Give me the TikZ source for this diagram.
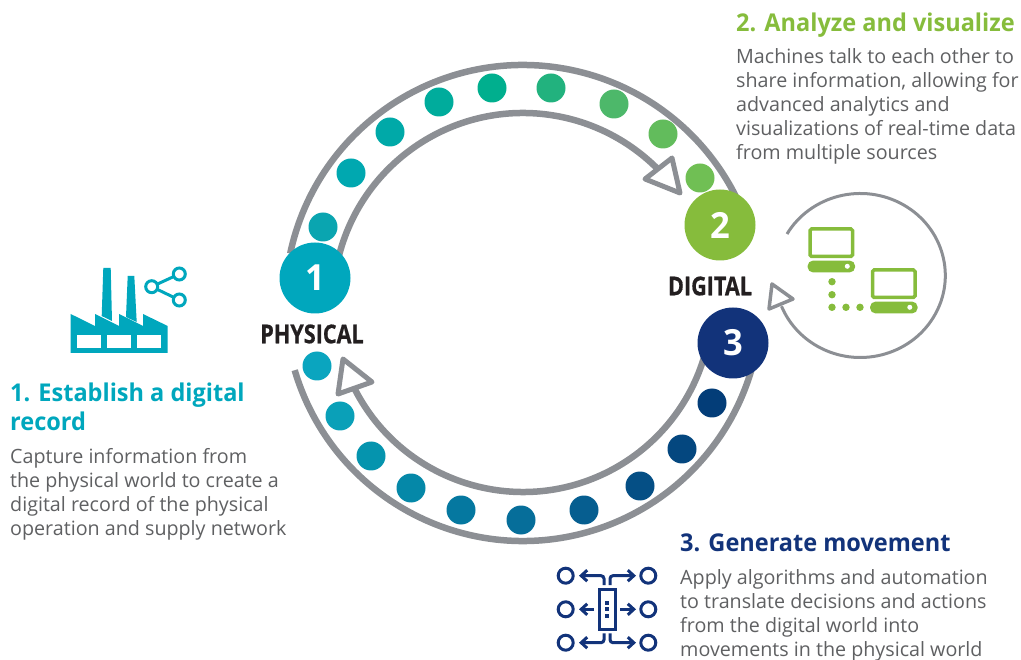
\documentclass[tikz,border=0pt]{standalone}
\usepackage{fontspec}
\setmainfont{Open Sans}
\newfontfamily\semifont[FakeStretch=0.96]{Open Sans}
\newfontfamily\condfont[FakeStretch=0.83,FakeBold=0.6]{Open Sans}
\usetikzlibrary{arrows.meta,backgrounds}
\definecolor{tealmain}{HTML}{00A7BD}
\definecolor{greenmain}{HTML}{86BC3C}
\definecolor{navymain}{HTML}{12337A}
\definecolor{ringgray}{HTML}{8C8F94}
\definecolor{bodygray}{HTML}{5F6062}
\definecolor{labelblack}{HTML}{231F20}
\tikzstyle{ringline}=[draw=ringgray, line width=6.5pt]
\tikzstyle{ringtip}=[draw=ringgray, fill=white, line width=5pt, line join=round]
\tikzstyle{ball}=[circle, inner sep=0pt, minimum size=29pt]
\tikzstyle{bignum}=[circle, inner sep=0pt, minimum size=71pt, text=white, font=\semifont\bfseries\fontsize{36}{36}\selectfont]
\tikzstyle{sidelabel}=[inner sep=0pt, text=labelblack, font=\condfont\bfseries\fontsize{26}{26}\selectfont]
\tikzstyle{headtext}=[inner sep=0pt, anchor=north west, align=left, font=\semifont\bfseries\fontsize{24.5}{29}\selectfont]
\tikzstyle{bodytext}=[inner sep=0pt, anchor=north west, align=left, text=bodygray, font=\fontsize{19.7}{24}\selectfont]
\tikzstyle{netline}=[draw=navymain, line width=3pt]
\tikzstyle{netarrow}=[netline, rounded corners=3pt, -{Straight Barb[length=6pt,width=11pt]}]
\begin{document}
\begin{tikzpicture}[x=1pt, y=-1pt]
	\useasboundingbox (0,0) rectangle (1021,660);
	\coordinate (ctr) at (523,303);
	\node[bignum, fill=tealmain] (physical) at (315,278) {1};
	\node[bignum, fill=greenmain] (digital) at (720,225) {2};
	\node[bignum, fill=navymain] (movement) at (733,343) {3};
	\begin{scope}[on background layer]
		\coordinate (topouter) at ([shift={(ctr)}]192:238);
		\coordinate (topinner) at ([shift={(ctr)}]190:190);
		\coordinate (botouter) at ([shift={(ctr)}]163.6:238);
		\coordinate (botinner) at ([shift={(ctr)}]152.7:189);
		\draw[ringline] (topouter) arc[start angle=192, end angle=336, radius=238];
		\draw[ringline] (topinner) arc[start angle=190, end angle=315, radius=190];
		\draw[ringline] (botouter) arc[start angle=163.6, end angle=16, radius=238];
		\draw[ringline] (botinner) arc[start angle=152.7, end angle=14, radius=189];
	\end{scope}
	\foreach \x/\y/\c in {323/227/0AA5B0, 351/173/00A8B0, 390/132/00A9A8, 439/102/00AC9C, 492/88/00AF8E, 551/88/22B27E, 614/104/4DB86A, 663/134/62BC5C, 700/178/70BF54,
		317/366/0AA5BF, 340/416/0AA0B8, 371/456/0594AE, 411/488/0588A8, 461/510/0578A0, 521/520/066E9A, 584/510/065E90, 640/486/054F85, 682/449/04477F, 712/403/033D78}{
		\definecolor{dotcolor}{HTML}{\c}
		\node[ball, fill=dotcolor] at (\x,\y) {};
	}
	\draw[ringtip] (645,179) -- (672,158) -- (680,193) -- cycle;
	\draw[ringtip] (343,359) -- (372,382) -- (338,394) -- cycle;
	\node[sidelabel] (physlabel) at (312,334) {PHYSICAL};
	\node[sidelabel] (diglabel) at (710,286) {DIGITAL};
	\coordinate (loopstart) at (787,234);
	\draw[draw=ringgray, line width=3pt] (loopstart) arc[start angle=210.4, end angle=518, x radius=85, y radius=82];
	\draw[ringtip, line width=3.5pt] (772,284) -- (793,299) -- (769,309) -- cycle;
	\fill[tealmain] (70.7,314) -- (95,326) -- (95,314) -- (119,326) -- (119,314) -- (143,326) -- (143,314) -- (167.7,326) -- (167.7,353) -- (70.7,353) -- cycle;
	\fill[tealmain] (103.3,268) -- (110.7,268) -- (112,321) -- (101.7,316) -- cycle;
	\fill[tealmain] (127.7,276) -- (134.3,276) -- (136.7,322) -- (126,317) -- cycle;
	\foreach \x in {77.3,107.3,136.7}{
		\fill[white] (\x,335) rectangle (\x+24,348.3);
	}
	\draw[draw=tealmain, line width=3pt] (179.3,274) -- (151.7,286.7) -- (179.3,300);
	\foreach \x/\y in {151.7/286.7, 179.3/274, 179.3/300}{
		\draw[draw=tealmain, fill=white, line width=3pt] (\x,\y) circle[radius=6];
	}
	\foreach \x/\y in {0/0, 62.5/41}{
		\draw[draw=greenmain, line width=3.5pt, rounded corners=1.5pt] (810+\x,229+\y) rectangle (852.5+\x,256.3+\y);
		\fill[greenmain, rounded corners=5pt] (807.7+\x,260.7+\y) rectangle (855+\x,272.3+\y);
		\fill[white] (847.3+\x,266.3+\y) circle[radius=2.5];
	}
	\foreach \x/\y in {832/281.7, 832/294.7, 832/307.3, 846/307.3, 860/307.3}{
		\fill[greenmain] (\x,\y) circle[radius=3.7];
	}
	\foreach \x in {565.7,648.3}{
		\foreach \y in {575.7,609.3,642.7}{
			\draw[netline] (\x,\y) circle[radius=7.5];
		}
	}
	\draw[netline] (599.5,589.5) rectangle (615,629);
	\foreach \y in {602.7,609.3,615.5}{
		\fill[navymain] (604.8,\y-2) rectangle (608.8,\y+2);
	}
	\draw[netarrow] (604,585) -- (604,575.7) -- (579,575.7);
	\draw[netarrow] (610,585) -- (610,575.7) -- (636,575.7);
	\draw[netarrow] (594,609.3) -- (579,609.3);
	\draw[netarrow] (620,609.3) -- (636,609.3);
	\draw[netarrow] (604,633.3) -- (604,642.7) -- (579,642.7);
	\draw[netarrow] (610,633.3) -- (610,642.7) -- (636,642.7);
	\node[headtext, text=tealmain] (head1) at (10,383) {1. Establish a digital\\record};
	\node[bodytext] (body1) at (10,448) {Capture information from\\the physical world to create a\\digital record of the physical\\operation and supply network};
	\node[headtext, text=greenmain] (head2) at (736,13) {2. Analyze and visualize};
	\node[bodytext] (body2) at (736,48) {Machines talk to each other to\\share information, allowing for\\advanced analytics and\\visualizations of real-time data\\from multiple sources};
	\node[headtext, text=navymain] (head3) at (680,534) {3. Generate movement};
	\node[bodytext] (body3) at (680,569) {Apply algorithms and automation\\to translate decisions and actions\\from the digital world into\\movements in the physical world};
\end{tikzpicture}
\end{document}
